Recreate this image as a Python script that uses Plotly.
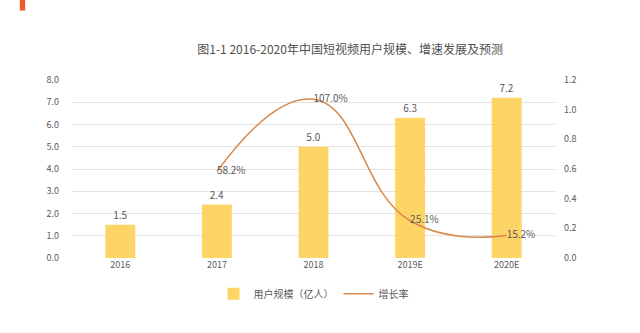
import plotly.graph_objects as go

categories = ["2016", "2017", "2018", "2019E", "2020E"]
users = [1.5, 2.4, 5.0, 6.3, 7.2]
growth_cats = ["2017", "2018", "2019E", "2020E"]
growth = [0.582, 1.070, 0.251, 0.152]
growth_labels = ["58.2%", "107.0%", "25.1%", "15.2%"]
left_ticks = [0, 1, 2, 3, 4, 5, 6, 7, 8]
right_ticks = [0, 0.2, 0.4, 0.6, 0.8, 1.0, 1.2]

FONT = "Noto Sans CJK SC"
GRAY = "#595959"

fig = go.Figure()
fig.add_trace(go.Bar(
    x=categories, y=users, name="用户规模（亿人）",
    marker=dict(color="#FDD567", line=dict(width=0)),
    width=0.31,
    text=[f"{v:.1f}" for v in users], textposition="outside",
    textfont=dict(size=10, color=GRAY, family=FONT),
    cliponaxis=False,
))
fig.add_trace(go.Scatter(
    x=growth_cats, y=growth, name="增长率", yaxis="y2",
    mode="lines+text",
    line=dict(color="#D9894A", width=1.5, shape="spline", smoothing=1.3),
    text=growth_labels, textposition="middle right",
    textfont=dict(size=10, color=GRAY, family=FONT),
    cliponaxis=False,
))

fig.update_layout(
    width=640, height=333,
    margin=dict(l=72, r=85, t=80, b=75),
    paper_bgcolor="white", plot_bgcolor="white",
    font=dict(family=FONT, size=10, color=GRAY),
    title=dict(text="图1-1 2016-2020年中国短视频用户规模、增速发展及预测",
               x=0.547, xanchor="center", y=0.85, yanchor="middle",
               font=dict(size=12, color="#505050", family=FONT)),
    bargap=0.69,
    xaxis=dict(type="category", showline=False, ticks="",
               tickfont=dict(size=9, color=GRAY), showgrid=False),
    yaxis=dict(range=[0, 8], tickvals=left_ticks,
               ticktext=[f"{v:.1f}" for v in left_ticks],
               showgrid=True, gridcolor="#E3E3E3", gridwidth=1,
               zeroline=False, showline=False,
               tickfont=dict(size=9, color=GRAY), ticklabelstandoff=12),
    yaxis2=dict(range=[0, 1.2], tickvals=right_ticks,
                ticktext=[f"{v:.1f}" for v in right_ticks],
                overlaying="y", side="right", showgrid=False,
                zeroline=False, showline=False,
                tickfont=dict(size=9, color=GRAY), ticklabelstandoff=8),
    legend=dict(orientation="h", x=0.5, xanchor="center", y=-0.12,
                yanchor="top", font=dict(size=10, color=GRAY),
                itemwidth=30, traceorder="normal"),
    shapes=[dict(type="rect", xref="paper", yref="paper",
                 x0=-0.108, x1=-0.097, y0=1.39, y1=1.46,
                 fillcolor="#F05A28", line=dict(width=0), layer="above")],
)

fig.write_html("out.html")
